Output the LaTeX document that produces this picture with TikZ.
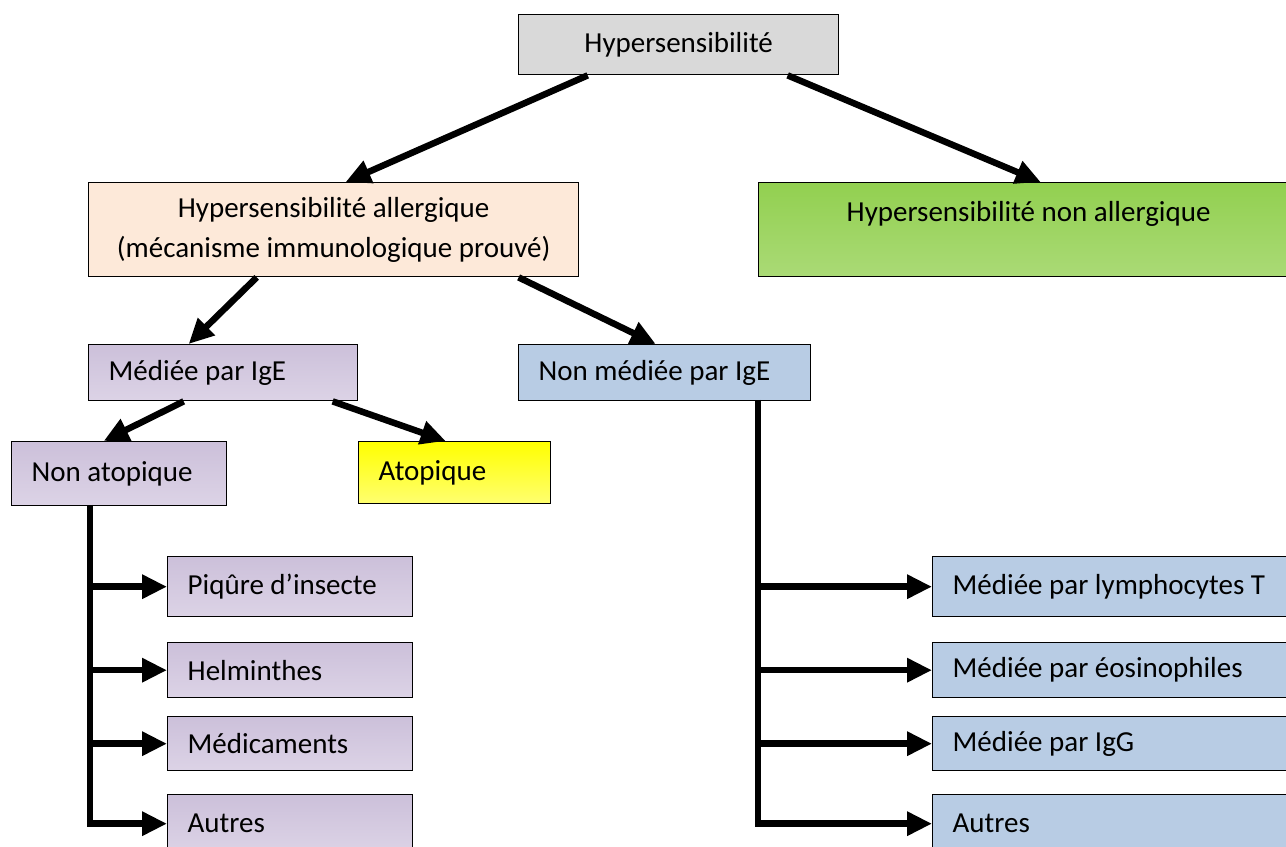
\documentclass[tikz,border=0pt]{standalone}
\usepackage{fontspec}
\setmainfont{Carlito}
\usepackage{xcolor}
\usepackage{tikz}
\usetikzlibrary{positioning,calc,arrows.meta}

\definecolor{hgray}{HTML}{D9D9D9}
\definecolor{hpeach}{HTML}{FDE9D9}
\definecolor{hgreen}{HTML}{92D050}
\definecolor{hgreenl}{HTML}{AADA76}
\definecolor{hpurple}{HTML}{CCC0DA}
\definecolor{hpurplel}{HTML}{DCD3E6}
\definecolor{hblue}{HTML}{B8CCE4}
\definecolor{hyellow}{HTML}{FFFF00}
\definecolor{hyellowl}{HTML}{FFFF70}

\begin{document}
\begin{tikzpicture}[x=0.02cm,y=-0.02cm,
	box/.style={draw=black,line width=0.8pt,inner sep=0pt,anchor=north west,font=\fontsize{16.5}{22.8}\selectfont},
	lbox/.style={box,inner xsep=0.4cm,align=flush left},
	pbox/.style={lbox,top color=hpurple,bottom color=hpurplel},
	bbox/.style={lbox,fill=hblue},
	arr/.style={-{Triangle[length=0.5cm,width=0.46cm]},line width=0.13cm},
	]
		\useasboundingbox (0,0) rectangle (1286,847);
		
		% top levels
		\node[box,fill=hgray,minimum width=6.4cm,minimum height=1.2cm] (hyp) at (518,14) {Hypersensibilité};
		\node[box,fill=hpeach,minimum width=9.8cm,minimum height=1.88cm,align=center] (aller) at (88,182) {Hypersensibilité allergique\\(mécanisme immunologique prouvé)};
		\node[box,top color=hgreen,bottom color=hgreenl,text width=10.8cm,align=flush center,text height=0.78cm,text depth=1.1cm] (naller) at (758,182) {Hypersensibilité non allergique};
		
		\node[pbox,text width=4.58cm,minimum height=1.12cm] (ige) at (88,344) {Médiée par IgE};
		\node[bbox,text width=5.04cm,minimum height=1.12cm] (nige) at (518,344) {Non médiée par IgE};
		\node[pbox,text width=3.5cm,minimum height=1.28cm] (natop) at (11,441) {Non atopique};
		\node[lbox,top color=hyellow,bottom color=hyellowl,text width=3.04cm,minimum height=1.24cm] (atop) at (358,441) {Atopique};
		
		% left column
		\node[pbox,text width=4.1cm,minimum height=1.2cm] (piq) at (167,556) {Piqûre d’insecte};
		\node[pbox,text width=4.1cm,minimum height=1.1cm] (helm) at (167,642) {Helminthes};
		\node[pbox,text width=4.1cm,minimum height=1.08cm] (medic) at (167,716) {Médicaments};
		\node[pbox,text width=4.1cm,minimum height=1.16cm] (lautres) at (167,794) {Autres};
		
		% right column
		\node[bbox,text width=6.56cm,minimum height=1.2cm] (lympho) at (932,556) {Médiée par lymphocytes T};
		\node[bbox,text width=6.56cm,minimum height=1.1cm] (eosi) at (932,642) {Médiée par éosinophiles};
		\node[bbox,text width=6.56cm,minimum height=1.08cm] (igg) at (932,716) {Médiée par IgG};
		\node[bbox,text width=6.56cm,minimum height=1.16cm] (rautres) at (932,794) {Autres};
		
		\draw[arr] ([xshift=-1.82cm]hyp.south) -- ([xshift=0.24cm]aller.north);
		\draw[arr] ([xshift=2.18cm]hyp.south) -- ([xshift=0.24cm]naller.north);
		\draw[arr] ([xshift=-1.54cm]aller.south) -- ([xshift=-0.69cm]ige.north);
		\draw[arr] ([xshift=3.7cm]aller.south) -- ([xshift=-0.18cm]nige.north);
		\draw[arr] ([xshift=-0.79cm]ige.south) -- ([xshift=-0.31cm]natop.north);
		\draw[arr] ([xshift=2.19cm]ige.south) -- ([xshift=-0.18cm]atop.north);
		
		\coordinate (ltrunk) at (90,505);
		\coordinate (rtrunk) at (758,400);
		\draw[arr] (ltrunk) |- (lautres.west);
		\draw[arr] (rtrunk) |- (rautres.west);
		\foreach \n in {piq,helm,medic}
			\draw[arr] (ltrunk |- \n.west) -- (\n.west);
		\foreach \n in {lympho,eosi,igg}
			\draw[arr] (rtrunk |- \n.west) -- (\n.west);
	\end{tikzpicture}
\end{document}
